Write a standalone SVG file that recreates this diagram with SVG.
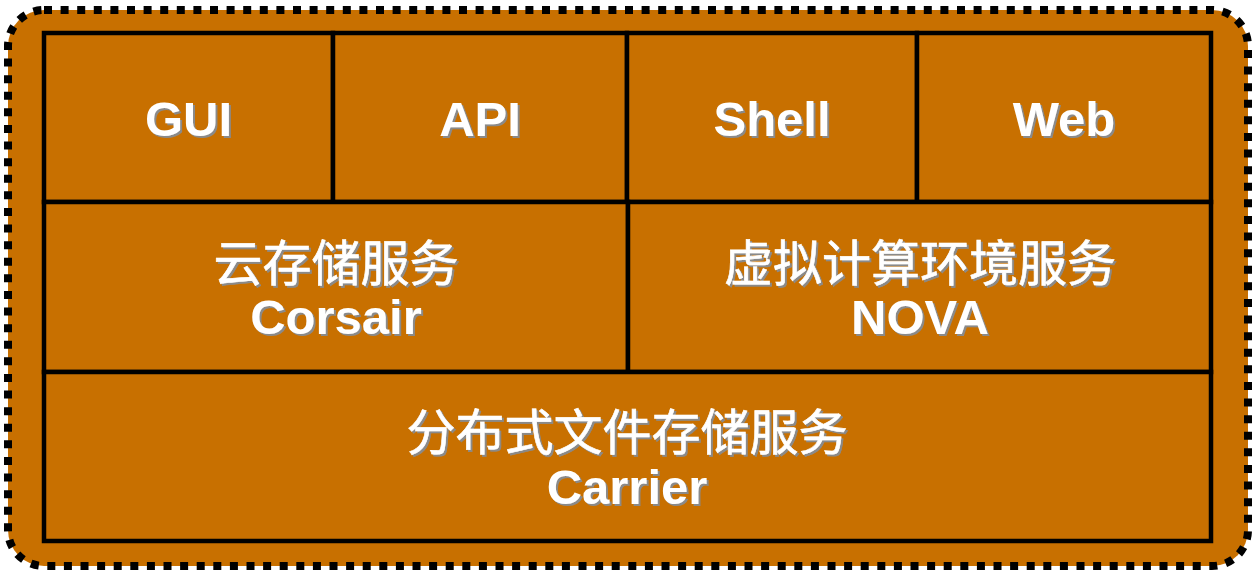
<svg xmlns="http://www.w3.org/2000/svg" width="1252" height="570" viewBox="0 0 1252 570">
<defs>
<filter id="sh" x="-10%" y="-10%" width="130%" height="140%">
<feDropShadow dx="2" dy="2" stdDeviation="0.6" flood-color="#8a8a8a" flood-opacity="1"/>
</filter>
</defs>
<style>
.cell{fill:#C87000;stroke:#000;stroke-width:4.5}
.t{font-family:"Liberation Sans","Noto Sans CJK SC",Arial,sans-serif;font-weight:bold;font-size:49px;fill:#fff;text-anchor:middle;filter:url(#sh)}
.c{font-family:"Noto Sans CJK SC","Liberation Sans",sans-serif;font-weight:normal;font-size:49px;stroke:#fff;stroke-width:0.6}
</style>
<rect id="frame" x="8" y="10" width="1240" height="556" rx="36" ry="36" fill="#C87000" stroke="#000" stroke-width="8" stroke-dasharray="8 8.6"/>
<g id="gui"><rect class="cell" x="44" y="33" width="289" height="169"/><text class="t" x="188.5" y="136">GUI</text></g>
<g id="api"><rect class="cell" x="333" y="33" width="294" height="169"/><text class="t" x="480" y="136">API</text></g>
<g id="shell"><rect class="cell" x="627" y="33" width="290" height="169"/><text class="t" x="772" y="136">Shell</text></g>
<g id="web"><rect class="cell" x="917" y="33" width="294" height="169"/><text class="t" x="1064" y="136">Web</text></g>
<g id="corsair"><rect class="cell" x="44" y="202" width="584" height="170"/><text class="t c" x="336" y="281">云存储服务</text><text class="t" x="336" y="334">Corsair</text></g>
<g id="nova"><rect class="cell" x="628" y="202" width="583" height="170"/><text class="t c" x="920" y="281">虚拟计算环境服务</text><text class="t" x="920" y="334">NOVA</text></g>
<g id="carrier"><rect class="cell" x="44" y="372" width="1167" height="169"/><text class="t c" x="627" y="450">分布式文件存储服务</text><text class="t" x="627" y="504">Carrier</text></g>
<g id="connectors"></g>
</svg>
